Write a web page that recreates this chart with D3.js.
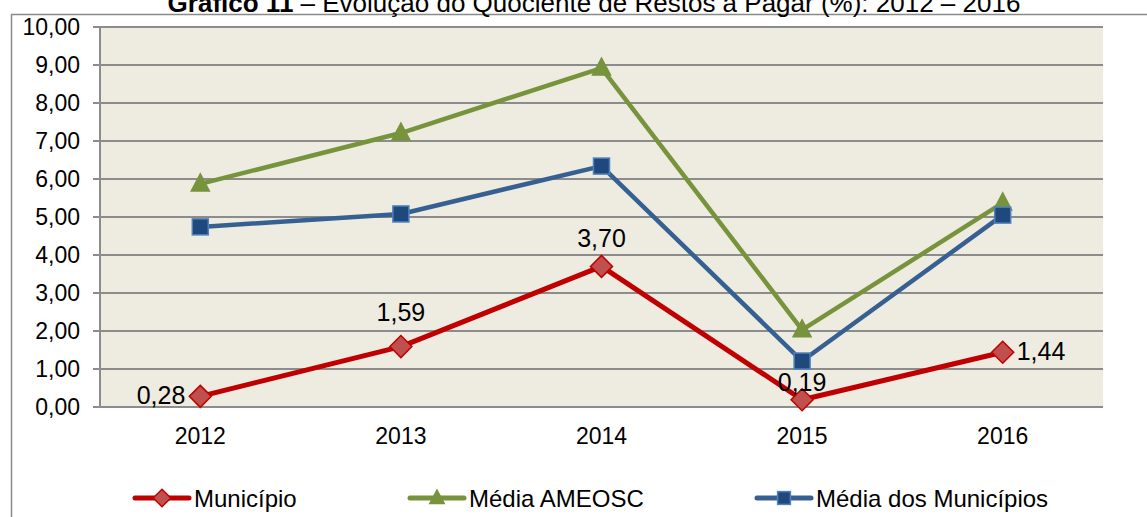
<!DOCTYPE html>
<html>
<head>
<meta charset="utf-8">
<script src="https://cdn.jsdelivr.net/npm/d3@7"></script>
<style>
  body { margin: 0; background: #fff; }
  svg { display: block; font-family: "Liberation Sans", Arial, sans-serif; }
</style>
</head>
<body>
<div id="chart"></div>
<script>
var years = ["2012", "2013", "2014", "2015", "2016"];
var municipio = [0.28, 1.59, 3.70, 0.19, 1.44];
var mediaAmeosc = [5.87, 7.21, 8.92, 2.03, 5.37];
var mediaMunicipios = [4.74, 5.08, 6.34, 1.21, 5.05];
var yTicks = [0, 1, 2, 3, 4, 5, 6, 7, 8, 9, 10];

var W = 1147, H = 517;
var margin = {left: 100, right: 44, top: 27, bottom: 110};

var svg = d3.select("#chart").append("svg")
    .attr("width", W)
    .attr("height", H);

var fmt = function(v){ return d3.format(".2f")(v).replace(".", ","); };

// outer frame of the chart (only top and left visible)
svg.append("line").attr("x1", 11).attr("x2", W).attr("y1", 14.5).attr("y2", 14.5)
    .style("stroke", "#8a8a8a").style("stroke-width", 1.5);
svg.append("line").attr("x1", 11.5).attr("x2", 11.5).attr("y1", 14).attr("y2", H)
    .style("stroke", "#8a8a8a").style("stroke-width", 1.5);

// title, cut at the top as in the picture
var title = svg.append("text")
    .attr("x", 594)
    .attr("y", 12)
    .attr("text-anchor", "middle")
    .style("font-size", "26px");
title.append("tspan").style("font-weight", "bold").text("Gráfico 11");
title.append("tspan").text(" – Evolução do Quociente de Restos a Pagar (%): 2012 – 2016");

var x = d3.scaleBand().domain(years).range([margin.left, W - margin.right]);
var y = d3.scaleLinear().domain([0, 10]).range([H - margin.bottom, margin.top]);

var g = svg.append("g");

g.append("rect")
    .attr("x", margin.left).attr("y", y(10))
    .attr("width", W - margin.right - margin.left)
    .attr("height", y(0) - y(10))
    .style("fill", "#eeebe0");

// gridlines
g.selectAll(".grid").data(yTicks).enter().append("line")
    .attr("class", "grid")
    .attr("x1", margin.left - 7).attr("x2", W - margin.right)
    .attr("y1", function(d){ return y(d); })
    .attr("y2", function(d){ return y(d); })
    .style("stroke", "#8c8c8c").style("stroke-width", 2);

// left axis line
g.append("line")
    .attr("x1", margin.left).attr("x2", margin.left)
    .attr("y1", y(10)).attr("y2", y(0))
    .style("stroke", "#8c8c8c").style("stroke-width", 2);

// y labels
g.selectAll(".ylab").data(yTicks).enter().append("text")
    .attr("x", 80)
    .attr("y", function(d){ return y(d); })
    .attr("dy", "0.36em")
    .attr("text-anchor", "end")
    .style("font-size", "23px")
    .text(fmt);

// x labels
g.selectAll(".xlab").data(years).enter().append("text")
    .attr("x", function(d){ return x(d) + x.bandwidth() / 2; })
    .attr("y", 444)
    .attr("text-anchor", "middle")
    .style("font-size", "23px")
    .text(function(d){ return d; });

var cx = function(d, i){ return x(years[i]) + x.bandwidth() / 2; };
var line = d3.line().x(cx).y(function(d){ return y(d); });

var series = [
  {name: "Média AMEOSC", values: mediaAmeosc, color: "#77933c", width: 4.5, marker: "triangle", fill: "#77933c", mstroke: "#77933c"},
  {name: "Média dos Municípios", values: mediaMunicipios, color: "#376092", width: 4.5, marker: "square", fill: "#1f497d", mstroke: "#4f81bd"},
  {name: "Município", values: municipio, color: "#c00000", width: 5, marker: "diamond", fill: "#c0504d", mstroke: "#c00000"}
];

function drawMarker(sel, s, k){
  if (s.marker === "triangle") {
    sel.append("path").attr("d", "M0," + (-10 * k) + "L" + (9 * k) + "," + (7 * k) + "L" + (-9 * k) + "," + (7 * k) + "Z");
  } else if (s.marker === "square") {
    sel.append("rect").attr("x", -8 * k).attr("y", -8 * k).attr("width", 16 * k).attr("height", 16 * k);
  } else {
    sel.append("path").attr("d", "M0," + (-11 * k) + "L" + (11 * k) + ",0L0," + (11 * k) + "L" + (-11 * k) + ",0Z");
  }
  sel.selectAll("*").style("fill", s.fill).style("stroke", s.mstroke).style("stroke-width", 1.5);
}

series.forEach(function(s){
  g.append("path")
    .datum(s.values)
    .attr("d", line)
    .style("fill", "none")
    .style("stroke", s.color)
    .style("stroke-width", s.width)
    .style("stroke-linejoin", "round");
  g.selectAll(null).data(s.values).enter().append("g")
    .attr("transform", function(d, i){ return "translate(" + cx(d, i) + "," + y(d) + ")"; })
    .each(function(){ drawMarker(d3.select(this), s, 1); });
});

// data labels for Município
var labelPos = [
  {dx: -15, dy: 8, anchor: "end"},
  {dx: 0, dy: -26, anchor: "middle"},
  {dx: 0, dy: -19, anchor: "middle"},
  {dx: 0, dy: -9, anchor: "middle"},
  {dx: 14, dy: 8, anchor: "start"}
];
g.selectAll(".dlab").data(municipio).enter().append("text")
    .attr("x", function(d, i){ return cx(d, i) + labelPos[i].dx; })
    .attr("y", function(d, i){ return y(d) + labelPos[i].dy; })
    .attr("text-anchor", function(d, i){ return labelPos[i].anchor; })
    .style("font-size", "25px")
    .text(fmt);

// legend
var legendItems = [
  {s: series[2], x: 135},
  {s: series[0], x: 410},
  {s: series[1], x: 757}
];
var lg = svg.selectAll(".legend").data(legendItems).enter().append("g")
    .attr("transform", function(d){ return "translate(" + d.x + ",498)"; });
lg.append("line")
    .attr("x1", 0).attr("x2", 54).attr("y1", 0).attr("y2", 0)
    .style("stroke", function(d){ return d.s.color; })
    .style("stroke-width", 5)
    .style("stroke-linecap", "round");
lg.append("g").attr("transform", "translate(27,0)")
    .each(function(d){ drawMarker(d3.select(this), d.s, 0.8); });
lg.append("text")
    .attr("x", 59).attr("y", 0).attr("dy", "0.36em")
    .style("font-size", "24px")
    .text(function(d){ return d.s.name; });
</script>
</body>
</html>
